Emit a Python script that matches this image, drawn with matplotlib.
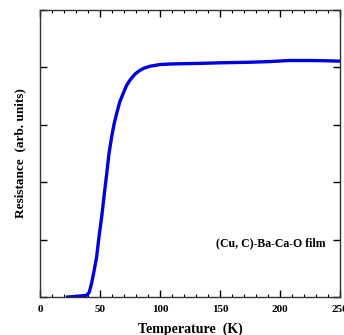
import matplotlib.pyplot as plt
from matplotlib.ticker import MultipleLocator, NullFormatter

# Gemeten weerstand (willekeurige eenheden) tegen temperatuur
temperature = [23, 30, 35, 38.9, 41, 43, 45, 47.2, 49, 51.4, 53.5, 55.6, 57.5, 59.7,
               61.8, 63.9, 66.5, 69.4, 72, 75, 79, 83.3, 87, 91.7, 100, 110, 120,
               133, 150, 175, 190, 208, 225, 240, 247, 250]
resistance = [0.0, 0.01, 0.02, 0.03, 0.08, 0.24, 0.45, 0.70, 1.02, 1.40, 1.78, 2.15,
              2.50, 2.79, 3.02, 3.20, 3.40, 3.55, 3.68, 3.78, 3.88, 3.95, 3.99, 4.02,
              4.05, 4.06, 4.065, 4.07, 4.08, 4.09, 4.10, 4.12, 4.12, 4.115, 4.11, 4.11]

x_ticks = [0, 50, 100, 150, 200, 250]
label_text = "(Cu, C)-Ba-Ca-O film"

plt.rcParams['font.family'] = ['Liberation Serif', 'DejaVu Serif']

fig = plt.figure(figsize=(3.44, 3.35), dpi=100)
ax = fig.add_axes([40 / 344, 38 / 335, 300 / 344, 287 / 335])

ax.plot(temperature, resistance, color="#0000dd", linewidth=2.4)

ax.set_xlim(0, 250)
ax.set_ylim(0, 5)
ax.set_xticks(x_ticks)
ax.set_xticklabels([str(t) for t in x_ticks], fontsize=8, fontweight='bold')
ax.xaxis.set_minor_locator(MultipleLocator(10))
ax.yaxis.set_major_locator(MultipleLocator(1))
ax.yaxis.set_major_formatter(NullFormatter())

ax.tick_params(axis='both', which='major', direction='in', length=5, width=1,
               top=True, right=True, pad=6)
ax.tick_params(axis='x', which='minor', direction='in', length=2.5, width=0.8,
               top=True)
for spine in ax.spines.values():
    spine.set_linewidth(1.0)
    spine.set_color("#333333")

ax.set_xlabel('Temperature  (K)', fontsize=10, fontweight='bold', labelpad=6)
ax.set_ylabel('Resistance  (arb. units)', fontsize=9.5, fontweight='bold', labelpad=4)

ax.text(192.5, 0.94, label_text, fontsize=8.5, fontweight='bold', ha='center', va='center')

fig.savefig("out.png", dpi=100)
